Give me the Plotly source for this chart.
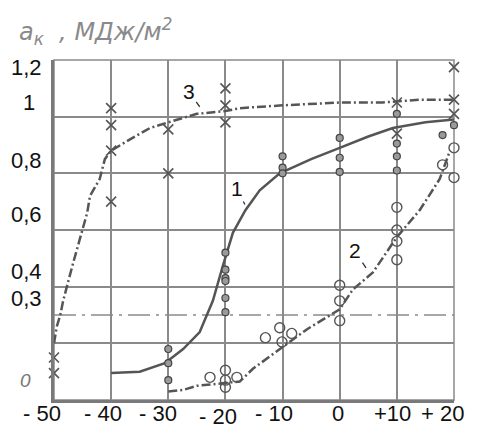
import plotly.graph_objects as go

# ---- data ----
# Curve 1 (solid line, filled dots)
x1_line = [-40, -35, -30.6, -27.4, -24.5, -22.2, -20.5, -18.7, -16.5, -14, -10.5, -5, 0, 5, 9.3, 15, 20]
y1_line = [0.095, 0.1, 0.13, 0.18, 0.24, 0.35, 0.47, 0.59, 0.67, 0.74, 0.80, 0.85, 0.89, 0.93, 0.96, 0.98, 0.99]
x1_pts = [-30, -30, -30, -20, -20, -20, -20, -20, -20, -10, -10, -10, 0, 0, 0, 10, 10, 10, 10, 20, 18, 21.7]
y1_pts = [0.18, 0.13, 0.07, 0.52, 0.46, 0.43, 0.42, 0.36, 0.31, 0.86, 0.82, 0.80, 0.925, 0.855, 0.805, 1.01, 0.905, 0.86, 0.81, 0.97, 0.935, 0.94]

# Curve 2 (dash-dot line, open circles)
x2_line = [-30, -27.5, -25, -22, -17.5, -15.2, -12.5, -10, -5.7, 0, 2.3, 5.8, 10, 14, 17.5, 19.3]
y2_line = [0.03, 0.035, 0.05, 0.055, 0.065, 0.11, 0.15, 0.185, 0.25, 0.32, 0.39, 0.45, 0.575, 0.67, 0.78, 0.88]
x2_pts = [-22.7, -20, -20, -20, -18, -13, -10.5, -10.1, -8.4, 0, 0, 0, 10, 10, 10, 10, 20, 18, 21.7, 20]
y2_pts = [0.08, 0.105, 0.07, 0.045, 0.08, 0.22, 0.255, 0.205, 0.235, 0.405, 0.35, 0.28, 0.68, 0.60, 0.56, 0.495, 0.89, 0.83, 0.83, 0.785]

# Curve 3 (dash-dot line, x markers)
x3_line = [-50, -49.5, -48.9, -48.4, -46.7, -44.2, -43.7, -42, -41.1, -40, -36.7, -33.2, -30, -25, -20, -17.5, -10, 0, 7.5, 14, 20]
y3_line = [0.2, 0.26, 0.3, 0.35, 0.48, 0.66, 0.72, 0.78, 0.85, 0.88, 0.92, 0.96, 0.98, 1.01, 1.02, 1.03, 1.04, 1.05, 1.05, 1.06, 1.06]
x3_pts = [-50, -50, -40, -40, -40, -40, -30, -30, -20, -20, -20, 10, 10, 20, 20, 20]
y3_pts = [0.15, 0.095, 0.70, 0.88, 0.97, 1.03, 0.955, 0.80, 1.10, 1.04, 0.98, 1.05, 0.94, 1.175, 1.06, 1.01]

x_tick_vals = [-50, -40, -30, -20, -10, 0, 10, 20]
x_tick_text = ["-\u00a050", "-\u00a040", "-\u00a030", "-\u00a020", "-\u00a010", "0", "+10", "+\u00a020"]
y_tick_vals = [1.2, 1.0, 0.8, 0.6, 0.4, 0.3, 0.0]
y_tick_text = ["1,2", "1", "0,8", "0,6", "0,4", "0,3", "0"]

# ---- styles ----
ink = "#555555"
grid = "#8a8a8a"
font = "Liberation Sans, Arial, sans-serif"

fig = go.Figure()

fig.add_trace(go.Scatter(x=x3_line, y=y3_line, mode="lines",
                         line=dict(color=ink, width=2.5, dash="9px,3px,2px,3px"),
                         hoverinfo="skip", showlegend=False))
fig.add_trace(go.Scatter(x=x1_line, y=y1_line, mode="lines",
                         line=dict(color=ink, width=2.5),
                         hoverinfo="skip", showlegend=False))
fig.add_trace(go.Scatter(x=x2_line, y=y2_line, mode="lines",
                         line=dict(color=ink, width=2.5, dash="9px,3px,2px,3px"),
                         hoverinfo="skip", showlegend=False))

fig.add_trace(go.Scatter(x=x1_pts, y=y1_pts, mode="markers", cliponaxis=False,
                         marker=dict(symbol="circle", size=7, color="#9a9a9a",
                                     line=dict(color="#444", width=1.2)),
                         showlegend=False))
fig.add_trace(go.Scatter(x=x2_pts, y=y2_pts, mode="markers", cliponaxis=False,
                         marker=dict(symbol="circle-open", size=10,
                                     line=dict(color="#555", width=1.4), color="#555"),
                         showlegend=False))
fig.add_trace(go.Scatter(x=x3_pts, y=y3_pts, mode="markers", cliponaxis=False,
                         marker=dict(symbol="x-thin", size=10,
                                     line=dict(color="#555", width=1.6), color="#555"),
                         showlegend=False))

shapes = [
    dict(type="rect", xref="paper", yref="paper", x0=0, x1=1, y0=0, y1=1,
         line=dict(color=grid, width=1.5), layer="below"),
    dict(type="line", xref="paper", yref="y", x0=0, x1=1, y0=0.3, y1=0.3,
         line=dict(color=grid, width=1.5, dash="22px,6px,3px,6px"), layer="below"),
]

annotations = []
y_shift = {1.2: -7, 1.0: 14, 0.8: 13, 0.6: 16, 0.4: 15, 0.3: 17, 0.0: 20}
for v, t in zip(y_tick_vals, y_tick_text):
    if t == "1":
        annotations.append(dict(x=-50, y=v, xref="x", yref="y", text=t, showarrow=False,
                                xanchor="center", xshift=-25, yshift=y_shift[v],
                                font=dict(family=font, size=22, color="#111")))
    elif t == "0":
        annotations.append(dict(x=-50, y=v, xref="x", yref="y", text="<i>0</i>", showarrow=False,
                                xanchor="center", xshift=-29, yshift=y_shift[v],
                                font=dict(family=font, size=19, color="#777")))
    else:
        annotations.append(dict(x=-50, y=v, xref="x", yref="y", text=t, showarrow=False,
                                xanchor="right", xshift=-10, yshift=y_shift[v],
                                font=dict(family=font, size=22, color="#111")))

x_shift = {-50: -12, -40: -8, -30: -10, -20: -7, -10: -9, 0: -2, 10: -4, 20: -12}
for v, t in zip(x_tick_vals, x_tick_text):
    annotations.append(dict(x=v, y=0, xref="x", yref="y", text=t, showarrow=False,
                            xanchor="center", yanchor="middle", xshift=x_shift[v],
                            yshift=-16 if v == -20 else -13,
                            font=dict(family=font, size=22, color="#111")))

annotations.append(dict(x=-0.0925, y=1.085, xref="paper", yref="paper",
                        text="<i>a<sub>к</sub>\u00a0\u00a0,\u00a0МДж/м<sup>2</sup></i>", showarrow=False,
                        xanchor="left", yanchor="middle",
                        font=dict(family="DejaVu Sans, sans-serif", size=24, color="#8a8a8a")))

# curve labels with leader lines
for txt, tx, ty, ax, ay in [("3", -24.5, 1.035, -11, -15), ("1", -16.6, 0.69, -8, -16), ("2", 4.6, 0.466, -11, -17)]:
    annotations.append(dict(x=tx, y=ty, xref="x", yref="y", text=txt, showarrow=True,
                            arrowhead=0, arrowwidth=1.3, arrowcolor="#333", ax=ax, ay=ay,
                            standoff=0, font=dict(family=font, size=21, color="#111")))

fig.update_layout(
    width=477, height=434,
    margin=dict(l=46, r=31, t=52, b=42),
    paper_bgcolor="white", plot_bgcolor="white",
    shapes=shapes, annotations=annotations,
    xaxis=dict(range=[-50, 20], tickvals=x_tick_vals, showticklabels=False, ticks="",
               showgrid=True, gridcolor=grid, gridwidth=1.5, zeroline=False,
               showline=True, linecolor="#7a7a7a", linewidth=3, fixedrange=True),
    yaxis=dict(range=[0, 1.2], tickvals=[0, 0.2, 0.4, 0.6, 0.8, 1.0, 1.2], showticklabels=False,
               ticks="", showgrid=True, gridcolor=grid, gridwidth=1.5, zeroline=False,
               showline=True, linecolor="#7a7a7a", linewidth=3, fixedrange=True),
)

fig.write_html("out.html")
